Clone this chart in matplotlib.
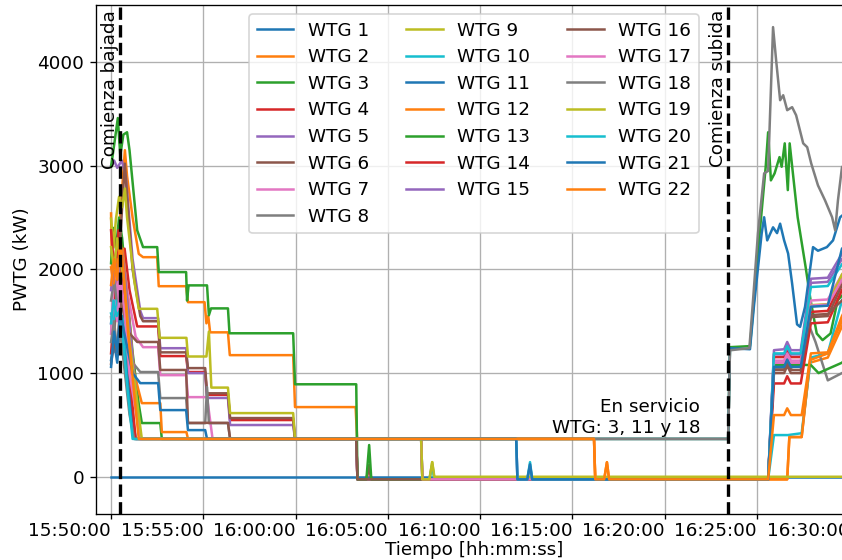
import numpy as np
import matplotlib
matplotlib.use('Agg')
import matplotlib.pyplot as plt
import matplotlib.dates as mdates

plt.rcParams['font.size'] = 11

# === Datos: (segundos desde 15:50:00, potencia kW) por aerogenerador ===
INICIO = np.datetime64('2024-01-01T15:50:00')
T_BAJADA = 29
T_SUBIDA = 2006

wtg1 = [(0, 0), (2410, 0)]
wtg2 = [(0, 2540), (4, 1850), (10, 2000), (16, 1900), (24, 2300), (34, 2700), (45, 3150), (52, 2900),
        (70, 2500), (90, 2150), (104, 2118), (150, 2118), (155, 1838), (244, 1838), (250, 1684),
        (304, 1684), (310, 1480), (316, 1550), (322, 1393), (380, 1393), (386, 1173), (592, 1173),
        (598, 672), (795, 672), (800, 365), (1570, 365), (1574, -25), (1603, -25), (1612, 140),
        (1619, -25), (2198, -25), (2205, 383), (2245, 383), (2272, 1100), (2330, 1150), (2376, 1450),
        (2410, 1650)]
wtg3 = [(0, 2060), (8, 2400), (16, 2200), (26, 2500), (36, 2300), (48, 1900), (70, 1200), (90, 700),
        (100, 518), (160, 518), (165, 365), (2006, 365), (2012, 1250), (2077, 1260), (2090, 1700),
        (2110, 2400), (2128, 2985), (2136, 3323), (2145, 2859), (2157, 2926), (2173, 3083),
        (2180, 2990), (2190, 3216), (2200, 2765), (2206, 3216), (2232, 2503), (2258, 2021),
        (2274, 1703), (2294, 1382), (2313, 1318), (2339, 1382), (2362, 1703), (2410, 1850)]
wtg4 = [(0, 1190), (8, 1500), (16, 2000), (24, 2377), (32, 2100), (44, 2200), (60, 1800), (85, 1450),
        (153, 1450), (160, 1164), (244, 1164), (250, 1010), (306, 1010), (312, 790), (380, 790),
        (387, 547), (592, 547), (598, 365), (797, 365), (801, -25), (830, -25), (839, 100), (846, -25),
        (2136, -25), (2155, 1154), (2188, 1154), (2198, 1220), (2210, 1154), (2242, 1154),
        (2275, 1590), (2330, 1600), (2376, 1900), (2410, 2050)]
wtg5 = [(0, 3000), (10, 3050), (20, 2980), (35, 3050), (48, 2900), (70, 2100), (95, 1600), (104, 1530),
        (153, 1530), (160, 1240), (244, 1240), (250, 1000), (306, 1000), (312, 760), (380, 760),
        (387, 499), (592, 499), (598, 365), (797, 365), (801, -25), (2136, -25), (2155, 1221),
        (2188, 1230), (2198, 1300), (2210, 1221), (2242, 1221), (2275, 1910), (2330, 1920),
        (2376, 2150), (2410, 2250)]
wtg6 = [(0, 1540), (8, 1200), (18, 1800), (28, 2200), (38, 2700), (45, 3020), (52, 2700), (70, 2000),
        (95, 1550), (104, 1500), (153, 1500), (160, 1200), (244, 1200), (250, 1048), (306, 1048),
        (312, 805), (380, 805), (387, 566), (592, 566), (598, 365), (797, 365), (801, -25), (830, -25),
        (839, 113), (846, -25), (2136, -25), (2155, 1000), (2188, 1000), (2198, 1070), (2210, 1000),
        (2242, 1000), (2275, 1540), (2330, 1550), (2376, 1850), (2410, 2000)]
wtg7 = [(0, 1380), (10, 2000), (20, 1700), (30, 2200), (40, 2100), (52, 1800), (80, 1350), (104, 1250),
        (153, 1250), (160, 980), (244, 980), (250, 768), (312, 768), (330, 365), (797, 365), (801, -25),
        (2136, -25), (2155, 1120), (2188, 1120), (2198, 1190), (2210, 1120), (2242, 1120),
        (2275, 1700), (2330, 1710), (2376, 1950), (2410, 2050)]
wtg8 = [(0, 1700), (10, 1900), (22, 1600), (32, 1800), (45, 1500), (70, 1100), (95, 1010), (153, 1010),
        (160, 759), (244, 759), (250, 517), (306, 517), (312, 865), (318, 517), (380, 517), (387, 365),
        (797, 365), (801, -25), (2136, -25), (2155, 1050), (2188, 1050), (2198, 1120), (2210, 1050),
        (2242, 1100), (2265, 1490), (2290, 1300), (2330, 930), (2376, 1000), (2410, 1050)]
wtg9 = [(0, 2490), (8, 2215), (16, 2490), (26, 2700), (36, 2600), (45, 2780), (52, 2500), (75, 1900),
        (90, 1620), (150, 1620), (158, 1340), (245, 1340), (250, 1160), (310, 1160), (318, 1400),
        (326, 860), (380, 860), (387, 614), (592, 614), (598, 365), (1008, 365), (1012, -25),
        (1035, -25), (1044, 141), (1051, -25), (2136, -25), (2155, 1077), (2188, 1077), (2198, 1150),
        (2210, 1077), (2242, 1077), (2275, 1655), (2330, 1665), (2376, 1950), (2410, 2100)]
wtg10 = [(0, 1575), (8, 1480), (16, 1700), (26, 1500), (36, 1550), (48, 1300), (60, 800), (75, 365),
         (1008, 365), (1012, -25), (1035, -25), (1044, 110), (1051, -25), (2136, -25), (2155, 402),
         (2200, 402), (2245, 420), (2275, 1150), (2330, 1190), (2376, 1700), (2410, 1900)]
wtg11 = [(0, 1125), (10, 1300), (20, 1100), (30, 1500), (40, 1300), (55, 900), (80, 365), (2006, 365),
         (2012, 1240), (2077, 1230), (2090, 1650), (2115, 2347), (2123, 2503), (2133, 2280),
         (2152, 2406), (2165, 2350), (2175, 2441), (2188, 2280), (2201, 2153), (2214, 1864),
         (2230, 1470), (2240, 1446), (2256, 1639), (2269, 1928), (2282, 2215), (2298, 2180),
         (2327, 2215), (2347, 2280), (2370, 2503), (2410, 2600)]
wtg12 = [(0, 2020), (8, 1865), (18, 2100), (28, 1900), (38, 2200), (50, 1800), (75, 1000), (100, 710),
         (160, 710), (165, 431), (245, 431), (250, 365), (1570, 365), (1574, -25), (2198, -25),
         (2205, 383), (2245, 383), (2272, 1125), (2330, 1190), (2376, 1550), (2410, 1750)]
wtg13 = [(0, 2990), (10, 3200), (22, 3460), (30, 3100), (40, 3300), (52, 3323), (60, 3150), (85, 2377),
         (104, 2215), (150, 2215), (155, 1974), (244, 1974), (247, 1700), (252, 1846), (312, 1846),
         (318, 1558), (325, 1624), (380, 1624), (385, 1384), (592, 1384), (598, 892), (797, 892),
         (801, -25), (830, -25), (839, 306), (846, -25), (2136, -25), (2155, 1080), (2188, 1080),
         (2198, 1150), (2210, 1080), (2242, 1080), (2275, 1077), (2300, 1000), (2330, 1040),
         (2376, 1100), (2410, 1200)]
wtg14 = [(0, 2377), (10, 2000), (20, 2300), (30, 2100), (45, 1700), (60, 1000), (80, 365), (1008, 365),
         (1012, -25), (2136, -25), (2155, 900), (2188, 900), (2198, 970), (2210, 900), (2242, 900),
         (2275, 1480), (2330, 1490), (2376, 1800), (2410, 1950)]
wtg15 = [(0, 1800), (10, 2100), (22, 1900), (34, 2200), (46, 1900), (70, 1150), (95, 365), (1317, 365),
         (1321, -25), (1353, -25), (1362, 100), (1369, -25), (2136, -25), (2155, 1180), (2188, 1180),
         (2198, 1250), (2210, 1180), (2242, 1180), (2275, 1870), (2330, 1880), (2376, 2100),
         (2410, 2200)]
wtg16 = [(0, 1090), (10, 1300), (20, 1200), (30, 1700), (40, 1600), (55, 1400), (85, 1300), (153, 1300),
         (160, 1030), (244, 1030), (250, 520), (380, 520), (387, 365), (797, 365), (801, -25),
         (2136, -25), (2155, 1030), (2188, 1030), (2198, 1100), (2210, 1030), (2242, 1030),
         (2275, 1560), (2330, 1570), (2376, 1700), (2410, 1800)]
wtg17 = [(0, 1480), (10, 1700), (20, 1500), (32, 1900), (44, 1600), (60, 1000), (95, 365), (1008, 365),
         (1012, -25), (2136, -25), (2155, 1100), (2188, 1100), (2198, 1170), (2210, 1100), (2242, 1100),
         (2275, 1650), (2330, 1660), (2376, 1900), (2410, 2000)]
wtg18 = [(0, 1300), (10, 1500), (20, 1200), (30, 1400), (45, 1000), (60, 600), (75, 365), (2006, 365),
         (2012, 1220), (2075, 1240), (2087, 1705), (2103, 2350), (2123, 2926), (2136, 2950),
         (2152, 4337), (2162, 4018), (2175, 3632), (2185, 3680), (2198, 3536), (2214, 3565),
         (2227, 3487), (2250, 3216), (2263, 3179), (2276, 3023), (2298, 2811), (2321, 2666),
         (2344, 2503), (2354, 2377), (2363, 2666), (2376, 2985), (2410, 3100)]
wtg19 = [(0, 2215), (10, 2000), (20, 2300), (30, 2100), (42, 1900), (60, 1300), (100, 365), (1008, 365),
         (1012, -25), (1035, -25), (1044, 141), (1051, 0), (2410, 0)]
wtg20 = [(0, 1480), (8, 1700), (18, 1550), (28, 1600), (40, 1300), (55, 800), (70, 365), (1317, 365),
         (1321, -25), (1353, -25), (1362, 141), (1369, -25), (2136, -25), (2155, 1190), (2188, 1190),
         (2198, 1260), (2210, 1190), (2242, 1190), (2275, 1830), (2330, 1840), (2376, 2050),
         (2410, 2150)]
wtg21 = [(0, 1060), (10, 1400), (20, 1200), (30, 1600), (42, 1400), (70, 1000), (95, 903), (153, 903),
         (160, 643), (244, 643), (250, 450), (306, 450), (312, 365), (1317, 365), (1321, -25),
         (1353, -25), (1362, 120), (1369, -25), (2136, -25), (2155, 1060), (2188, 1060), (2198, 1130),
         (2210, 1060), (2242, 1060), (2275, 1640), (2330, 1650), (2376, 2200), (2410, 2300)]
wtg22 = [(0, 1850), (10, 2100), (20, 1900), (30, 2300), (40, 2000), (55, 1400), (90, 365), (1570, 365),
         (1574, -25), (1603, -25), (1612, 140), (1619, -25), (2136, -25), (2155, 595), (2188, 595),
         (2198, 660), (2210, 595), (2245, 595), (2275, 1190), (2330, 1200), (2376, 1500), (2410, 1700)]

series = [wtg1, wtg2, wtg3, wtg4, wtg5, wtg6, wtg7, wtg8, wtg9, wtg10, wtg11,
          wtg12, wtg13, wtg14, wtg15, wtg16, wtg17, wtg18, wtg19, wtg20, wtg21, wtg22]


def a_fecha(seg):
    return INICIO + np.array(seg).astype('timedelta64[s]')


# === Gráfico ===
fig = plt.figure(figsize=(842 / 120, 560 / 120), dpi=120)
ax = fig.add_axes([0.114, 0.082, 0.898, 0.909])

for i, datos in enumerate(series):
    t = [p[0] for p in datos]
    v = [p[1] for p in datos]
    ax.plot(a_fecha(t), v, label=f'WTG {i + 1}')

ax.axvline(a_fecha(T_BAJADA), color='k', linestyle='--', linewidth=2)
ax.axvline(a_fecha(T_SUBIDA), color='k', linestyle='--', linewidth=2)
ax.text(a_fecha(T_BAJADA - 4), 4500, 'Comienza bajada', rotation=90, ha='right', va='top')
ax.text(a_fecha(T_SUBIDA - 4), 4500, 'Comienza subida', rotation=90, ha='right', va='top')
ax.text(a_fecha(1915), 385, 'En servicio\nWTG: 3, 11 y 18', ha='right', va='bottom', multialignment='right')

ax.set_xlim(a_fecha(-49), a_fecha(2409))
ax.set_ylim(-360, 4550)
ax.xaxis.set_major_locator(mdates.MinuteLocator(byminute=range(0, 60, 5)))
ax.xaxis.set_major_formatter(mdates.DateFormatter('%H:%M:%S'))
ax.tick_params(axis='x', length=3, pad=1.5)
plt.setp(ax.get_xticklabels(), ha='right')
ax.set_xlabel('Tiempo [hh:mm:ss]')
ax.xaxis.set_label_coords(0.5, -0.052)
ax.set_ylabel('PWTG (kW)')
ax.grid(True)
ax.legend(loc='upper center', ncol=3, labelspacing=0.47, borderaxespad=0.5)

fig.savefig('out.png', dpi=120)
